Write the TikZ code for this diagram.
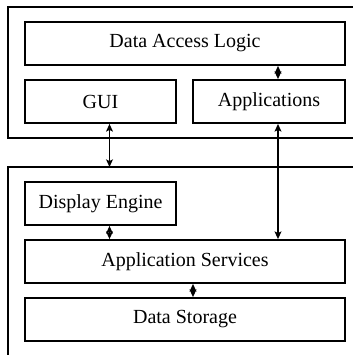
\documentclass[tikz,border=0pt]{standalone}
\usepackage{fontspec}
\setmainfont{Liberation Serif}
\usetikzlibrary{arrows.meta}

\begin{document}
\begin{tikzpicture}[x=0.5pt,y=-0.5pt,line width=0.9pt,
  font=\fontsize{10}{12}\selectfont,
  layer/.style={draw,inner sep=0pt,minimum height=21.5pt},
  link/.style={{Stealth[length=3.8pt,width=3.4pt,inset=0.8pt]}-{Stealth[length=3.8pt,width=3.4pt,inset=0.8pt]}}]

\clip (0,0) rectangle (353,355);

% the two outer frames
\draw (8,7) rectangle (362,138);
\draw (8,167) rectangle (362,370);
\coordinate (lowtop) at (8,167);

% upper frame
\node[layer,minimum width=160pt] (dal) at (185,43.5) {Data Access Logic};
\node[layer,minimum width=75.5pt] (gui) at (100.5,101.5) {GUI};
\node[layer,minimum width=76pt] (apps) at (269,101.5) {Applications};

% lower frame
\node[layer,minimum width=75.5pt] (disp) at (100.5,203.5) {Display Engine};
\node[layer,minimum width=160pt] (svc) at (185,261.5) {Application Services};
\node[layer,minimum width=160pt] (store) at (185,319.5) {Data Storage};

\draw[link] ([xshift=4.5pt]dal.south -| apps.north) -- ([xshift=4.5pt]apps.north);
\draw[link] ([xshift=4.5pt]gui.south) -- ([xshift=4.5pt]gui.south |- lowtop);
\draw[link] ([xshift=4.5pt]apps.south) -- ([xshift=4.5pt]svc.north -| apps.south);
\draw[link] ([xshift=4.5pt]disp.south) -- ([xshift=4.5pt]svc.north -| disp.south);
\draw[link] ([xshift=4pt]svc.south) -- ([xshift=4pt]store.north);

\end{tikzpicture}
\end{document}
